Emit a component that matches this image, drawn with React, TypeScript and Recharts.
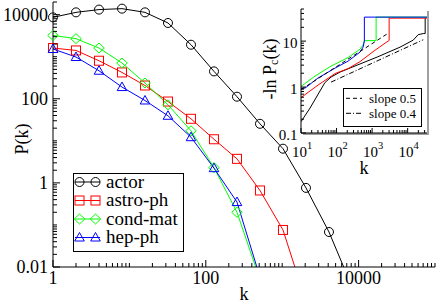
import React from 'react';
import { LineChart, Line, XAxis, YAxis, Legend, Label, CartesianGrid } from 'recharts';

const SERIF = '"Liberation Serif", "Times New Roman", Times, serif';

// ---- main panel: P(k), log-binned at powers of two ----
const kBins = [1, 2, 4, 8, 16, 32, 64, 128, 256, 512, 1024, 2048, 4096, 8192];
const actorP = [8630, 11350, 13200, 13900, 11350, 6340, 1930, 448, 112, 25.4, 6.5, 0.76, 0.068, 0.0034];
const astroP = [1610, 1410, 803, 423, 207, 86, 33.4, 10.9, 3.73, 0.66, 0.076, 0.0015];
const condP = [3210, 2690, 1610, 708, 237, 72, 17.3, 2.31, 0.2, 0.005];
const hepP = [1525, 984, 464, 190, 91, 39.4, 12.2, 2.24, 0.35, 0.0057];

const mainXLabels = [1, 100, 10000];
const mainYLabels = [0.01, 1, 100, 10000];

// ---- inset: -ln Pc(k) ----
const blackK = [10, 18, 47, 70, 126, 378, 1384, 6150, 14300, 19800, 27400, 31100, 31100];
const blackV = [0.176, 0.35, 1.25, 1.65, 2.12, 3.0, 4.49, 7.41, 10.5, 13.8, 14.6, 14.6, 31.6];
const redK = [10, 30, 91, 211, 459, 1067, 2322, 3013, 3013, 35000];
const redV = [0.59, 1.1, 1.97, 2.52, 3.58, 5.9, 9.05, 10.3, 31.6, 31.6];
const greenK = [10, 24.8, 70, 211, 459, 558, 606, 1297, 1297, 35000];
const greenV = [1.03, 1.73, 2.86, 4.38, 6.7, 8.2, 10.25, 10.25, 33.3, 33.3];
const blueK = [10, 13, 30, 91, 211, 459, 558, 606, 606, 35000];
const blueV = [0.93, 0.95, 1.57, 2.59, 3.67, 5.77, 7.41, 10, 33.3, 33.3];
const slope05K = [10, 3010];
const slope05V = [0.88, 15.3];
const slope04K = [70, 27400];
const slope04V = [1.28, 10.7];

const insetXLabels = [10, 100, 1000, 10000];
const insetYLabels = [0.1, 1, 10];

// 1..9 x 10^n between lo and hi
const logTicks = (lo: number, hi: number) => {
  const out: number[] = [];
  for (let e = Math.floor(Math.log10(lo)); e <= Math.ceil(Math.log10(hi)); e++) {
    for (let m = 1; m < 10; m++) {
      const v = +(m * Math.pow(10, e)).toPrecision(6);
      if (v >= lo * 0.999 && v <= hi * 1.001) out.push(v);
    }
  }
  return out;
};

const mainXTicks = logTicks(1, 100000);
const mainYTicks = logTicks(0.01, 20000);
const insetXTicks = logTicks(10, 35000);
const insetYTicks = logTicks(0.1, 50);

const pts = (ks: number[], vs: number[]) => vs.map((v, i) => ({ k: ks[i], v }));

type Shape = 'circle' | 'square' | 'diamond' | 'triangle';

const mainSeries: { name: string; color: string; shape: Shape; p: number[] }[] = [
  { name: 'actor', color: '#000000', shape: 'circle', p: actorP },
  { name: 'astro-ph', color: '#ff0000', shape: 'square', p: astroP },
  { name: 'cond-mat', color: '#00ff00', shape: 'diamond', p: condP },
  { name: 'hep-ph', color: '#0000ff', shape: 'triangle', p: hepP },
];

const insetSeries = [
  { id: 'black', color: '#000000', k: blackK, v: blackV, dash: undefined },
  { id: 'red', color: '#ff0000', k: redK, v: redV, dash: undefined },
  { id: 'green', color: '#00ff00', k: greenK, v: greenV, dash: undefined },
  { id: 'blue', color: '#0000ff', k: blueK, v: blueV, dash: undefined },
  { id: 's05', color: '#000000', k: slope05K, v: slope05V, dash: '4 3' },
  { id: 's04', color: '#000000', k: slope04K, v: slope04V, dash: '5 2 1 2' },
];

const Marker = ({ cx, cy, shape, color }: { cx: number; cy: number; shape: Shape; color: string }) => {
  if (shape === 'circle') return <circle cx={cx} cy={cy} r={4.5} fill="none" stroke={color} />;
  if (shape === 'square')
    return <rect x={cx - 4.5} y={cy - 4.5} width={9} height={9} fill="none" stroke={color} />;
  if (shape === 'diamond')
    return (
      <polygon
        points={`${cx},${cy - 5} ${cx + 5.3},${cy} ${cx},${cy + 5} ${cx - 5.3},${cy}`}
        fill="none"
        stroke={color}
      />
    );
  return (
    <polygon
      points={`${cx},${cy - 5} ${cx + 4.8},${cy + 3.5} ${cx - 4.8},${cy + 3.5}`}
      fill="none"
      stroke={color}
    />
  );
};

const isLabel = (v: number, labels: number[]) => labels.some((l) => Math.abs(v - l) <= l * 1e-6);

// inward ticks, drawn by hand so major and minor can differ in length
const tickRenderer =
  (
    side: 'bottom' | 'left' | 'top' | 'right',
    labels: number[],
    majorLen: number,
    minorLen: number,
    label?: (v: number, x: number, y: number) => React.ReactNode
  ) =>
  (props: any) => {
    const { x, y, payload, index } = props;
    const v = payload.value;
    const major = isLabel(v, labels);
    const len = major ? majorLen : minorLen;
    let line;
    if (side === 'bottom') line = <line x1={x} y1={y} x2={x} y2={y - len} stroke="#000" />;
    else if (side === 'top') line = <line x1={x} y1={y} x2={x} y2={y + len} stroke="#000" />;
    else if (side === 'left') line = <line x1={x} y1={y} x2={x + len} y2={y} stroke="#000" />;
    else line = <line x1={x} y1={y} x2={x - len} y2={y} stroke="#000" />;
    return (
      <g key={`${side}-${index}`}>
        {line}
        {major && label ? label(v, x, y) : null}
      </g>
    );
  };

const mainBottomLabel = (v: number, x: number, y: number) => (
  <text x={x} y={y + 16.5} textAnchor="middle" fontSize={18} fontFamily={SERIF} fill="#000">
    {v}
  </text>
);
const mainLeftLabel = (v: number, x: number, y: number) => (
  <text x={x - 5} y={y + 6} textAnchor="end" fontSize={18} fontFamily={SERIF} fill="#000">
    {v}
  </text>
);
const insetBottomLabel = (v: number, x: number, y: number) => (
  <text x={x + 1} y={y + 24} textAnchor="middle" fontSize={15} fontFamily={SERIF} fill="#000">
    10
    <tspan dy={-8} fontSize={10.5}>
      {Math.round(Math.log10(v))}
    </tspan>
  </text>
);
const insetLeftLabel = (v: number, x: number, y: number) => (
  <text x={x - 3.5} y={y + 6.5} textAnchor="end" fontSize={15} fontFamily={SERIF} fill="#000">
    {v}
  </text>
);

const MainLegend = () => (
  <svg width={111} height={79} style={{ display: 'block', overflow: 'visible' }}>
    <rect x={0.5} y={0.5} width={110} height={78} fill="#fff" stroke="#000" />
    {mainSeries.map((s, i) => {
      const cy = [9, 27.5, 46, 64.5][i];
      return (
        <g key={s.name}>
          <line x1={2} x2={27} y1={cy} y2={cy} stroke={s.color} />
          <Marker cx={6.5} cy={cy} shape={s.shape} color={s.color} />
          <Marker cx={22.5} cy={cy} shape={s.shape} color={s.color} />
          <text x={33} y={cy + 5.5} fontSize={19} fontFamily={SERIF} fill="#000">
            {s.name}
          </text>
        </g>
      );
    })}
  </svg>
);

const InsetLegend = () => (
  <svg width={79} height={39} style={{ display: 'block', overflow: 'visible' }}>
    <rect x={0.5} y={0.5} width={78} height={38} fill="#fff" stroke="#000" />
    <line x1={3} x2={19} y1={10.3} y2={10.3} stroke="#000" strokeDasharray="4 3" />
    <text x={26} y={14.5} fontSize={13} fontFamily={SERIF} fill="#000">
      slope 0.5
    </text>
    <line x1={3} x2={19} y1={25.3} y2={25.3} stroke="#000" strokeDasharray="5 2 1 2" />
    <text x={26} y={29.5} fontSize={13} fontFamily={SERIF} fill="#000">
      slope 0.4
    </text>
  </svg>
);

const axisCommon = {
  type: 'number' as const,
  scale: 'log' as const,
  interval: 0 as const,
  tickSize: 0,
  tickMargin: 0,
  tickLine: false,
  axisLine: { stroke: '#000' },
};

const App: React.FC = () => {
  return (
    <div style={{ position: 'absolute', left: 0, top: 0, width: 436, height: 303, background: '#fff' }}>
      <div style={{ position: 'absolute', left: 0, top: 0 }}>
        <LineChart width={436} height={303} margin={{ top: 2, right: 1, bottom: 0, left: 0 }}>
          <XAxis
            {...axisCommon}
            xAxisId="b"
            dataKey="k"
            domain={[1, 100000]}
            allowDataOverflow
            ticks={mainXTicks}
            height={36}
            tick={tickRenderer('bottom', mainXLabels, 7, 4, mainBottomLabel)}
          >
            <Label
              content={(p: any) => (
                <text
                  x={p.viewBox.x + p.viewBox.width / 2}
                  y={p.viewBox.y + 33}
                  textAnchor="middle"
                  fontSize={18}
                  fontFamily={SERIF}
                >
                  k
                </text>
              )}
            />
          </XAxis>
          <XAxis
            {...axisCommon}
            xAxisId="t"
            orientation="top"
            dataKey="k"
            domain={[1, 100000]}
            ticks={mainXTicks}
            height={0}
            tick={tickRenderer('top', mainXLabels, 7, 4)}
          />
          <YAxis
            {...axisCommon}
            yAxisId="l"
            dataKey="v"
            domain={[0.01, 20000]}
            allowDataOverflow
            ticks={mainYTicks}
            width={53}
            tick={tickRenderer('left', mainYLabels, 7, 4, mainLeftLabel)}
          >
            <Label
              content={() => {
                const cx = 22;
                const cy = 139;
                return (
                  <text
                    x={cx}
                    y={cy}
                    transform={`rotate(-90 ${cx} ${cy})`}
                    textAnchor="middle"
                    dominantBaseline="central"
                    fontSize={18}
                    fontFamily={SERIF}
                  >
                    P(k)
                  </text>
                );
              }}
            />
          </YAxis>
          <YAxis
            {...axisCommon}
            yAxisId="r"
            orientation="right"
            dataKey="v"
            domain={[0.01, 20000]}
            ticks={mainYTicks}
            width={0}
            tick={tickRenderer('right', mainYLabels, 7, 4)}
          />
          {mainSeries.map((s) => (
            <Line
              key={s.name}
              xAxisId="b"
              yAxisId="l"
              data={pts(kBins, s.p)}
              dataKey="v"
              type="linear"
              stroke={s.color}
              strokeWidth={1}
              dot={false}
              isAnimationActive={false}
              legendType="none"
            />
          ))}
          {mainSeries.map((s) => (
            <Line
              key={s.name + '-dots'}
              xAxisId="t"
              yAxisId="r"
              data={pts(kBins, s.p).filter((d) => d.v >= 0.01)}
              dataKey="v"
              type="linear"
              stroke="none"
              dot={(p: any) => (
                <Marker key={`${s.name}-${p.index}`} cx={p.cx} cy={p.cy} shape={s.shape} color={s.color} />
              )}
              isAnimationActive={false}
              legendType="none"
            />
          ))}
          <Legend
            layout="vertical"
            align="center"
            verticalAlign="middle"
            wrapperStyle={{ left: 73, top: 173, width: 111, height: 79 }}
            content={() => <MainLegend />}
          />
        </LineChart>
      </div>

      {/* drop shadow behind the inset frame */}
      <div style={{ position: 'absolute', left: 303, top: 11, width: 126, height: 124, background: '#a0a0a0' }} />

      <div style={{ position: 'absolute', left: 255, top: 0 }}>
        <LineChart width={181} height={180} margin={{ top: 9, right: 9, bottom: 0, left: 0 }}>
          <CartesianGrid xAxisId="b" yAxisId="l" horizontal={false} vertical={false} fill="#fff" />
          <XAxis
            {...axisCommon}
            xAxisId="b"
            dataKey="k"
            domain={[10, 35000]}
            allowDataOverflow
            ticks={insetXTicks}
            height={47}
            tick={tickRenderer('bottom', insetXLabels, 5, 3, insetBottomLabel)}
          >
            <Label
              content={(p: any) => (
                <text
                  x={p.viewBox.x + p.viewBox.width / 2}
                  y={p.viewBox.y + 41}
                  textAnchor="middle"
                  fontSize={18}
                  fontFamily={SERIF}
                >
                  k
                </text>
              )}
            />
          </XAxis>
          <XAxis
            {...axisCommon}
            xAxisId="t"
            orientation="top"
            dataKey="k"
            domain={[10, 35000]}
            allowDataOverflow
            ticks={insetXTicks}
            height={0}
            tick={tickRenderer('top', insetXLabels, 5, 3)}
          />
          <YAxis
            {...axisCommon}
            yAxisId="l"
            dataKey="v"
            domain={[0.1, 50]}
            allowDataOverflow
            ticks={insetYTicks}
            width={46}
            tick={tickRenderer('left', insetYLabels, 5, 3, insetLeftLabel)}
          >
            <Label
              content={() => {
                const cx = 15;
                const cy = 69;
                return (
                  <text
                    x={cx}
                    y={cy}
                    transform={`rotate(-90 ${cx} ${cy})`}
                    textAnchor="middle"
                    dominantBaseline="central"
                    fontSize={18}
                    fontFamily={SERIF}
                  >
                    -ln P
                    <tspan dy={4} fontSize={12}>
                      c
                    </tspan>
                    <tspan dy={-4}>(k)</tspan>
                  </text>
                );
              }}
            />
          </YAxis>
          <YAxis
            {...axisCommon}
            yAxisId="r"
            orientation="right"
            dataKey="v"
            domain={[0.1, 50]}
            allowDataOverflow
            ticks={insetYTicks}
            width={0}
            tick={tickRenderer('right', insetYLabels, 5, 3)}
          />
          {insetSeries.map((s) => (
            <Line
              key={s.id}
              xAxisId="b"
              yAxisId="l"
              data={pts(s.k, s.v)}
              dataKey="v"
              type="linear"
              stroke={s.color}
              strokeWidth={1}
              strokeDasharray={s.dash}
              dot={false}
              isAnimationActive={false}
              legendType="none"
            />
          ))}
          <Legend
            layout="vertical"
            align="center"
            verticalAlign="middle"
            wrapperStyle={{ left: 88, top: 88, width: 79, height: 39 }}
            content={() => <InsetLegend />}
          />
        </LineChart>
      </div>
    </div>
  );
};

export default App;
